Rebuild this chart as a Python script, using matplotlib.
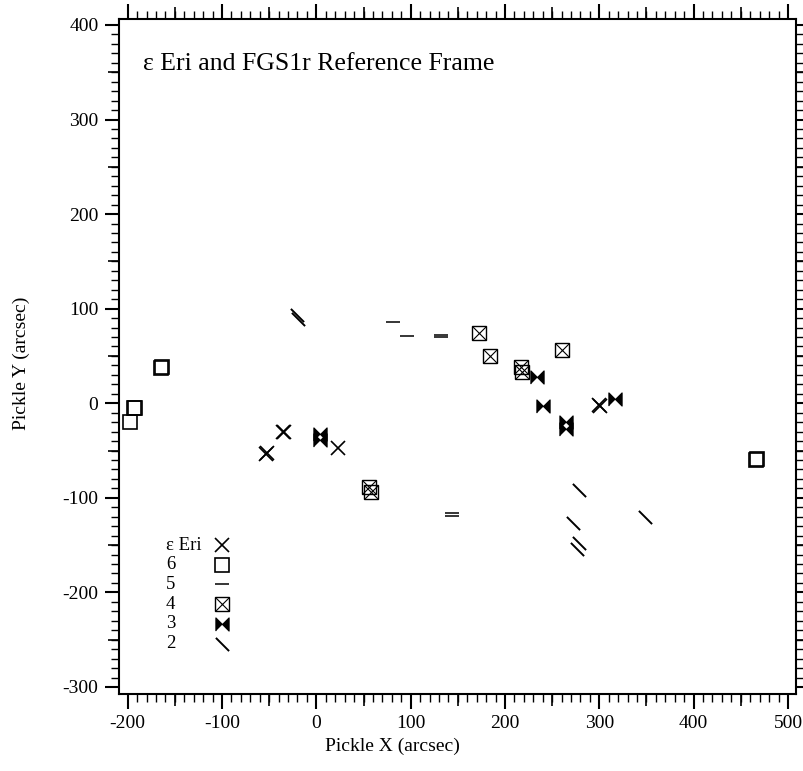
import numpy as np
import matplotlib.pyplot as plt
from matplotlib.path import Path
from matplotlib.ticker import MultipleLocator

plt.rcParams['font.family'] = ['Liberation Serif', 'DejaVu Serif']
plt.rcParams['axes.unicode_minus'] = False

eri_x = [-53.7, -52.6, -35.6, -34.5, 23.3, 300.8, 299.8]
eri_y = [-53.6, -53.0, -30.7, -30.1, -47.6, -2.9, -2.2]

f6_x = [-197.6, -193.3, -192.6, -164.7, -163.9, 466.0, 466.8]
f6_y = [-20.0, -5.3, -4.8, 37.0, 37.8, -60.0, -59.2]

f5_x = [81.7, 95.9, 131.9, 131.9, 143.9, 144.2]
f5_y = [85.6, 71.5, 72.5, 69.8, -116.3, -119.2]

f4_x = [172.8, 184.2, 217.1, 217.8, 260.6, 56.2, 57.7]
f4_y = [74.0, 50.0, 38.7, 33.4, 56.3, -88.2, -93.5]

f3_x = [3.9, 3.9, 233.7, 240.1, 264.5, 264.5, 316.8]
f3_y = [-32.5, -38.5, 27.5, -2.9, -20.3, -27.2, 4.5]

f2_x = [-21.0, -19.0, 278.3, 272.2, 278.9, 276.8, 348.6]
f2_y = [93.0, 89.0, -92.0, -127.0, -148.0, -154.4, -120.0]

labels = ['ε Eri', '6', '5', '4', '3', '2']

# custom marker shapes
bowtie = [(-1, -1), (-1, 1), (0, 0), (1, 1), (1, -1), (0, 0)]
slash = Path([(-1, 1), (1, -1)], [Path.MOVETO, Path.LINETO])

ms = 9.5
styles = [
    [dict(marker='x', ms=ms, mew=1.2, color='k')],
    [dict(marker='s', ms=ms, mew=1.2, mfc='none', mec='k')],
    [dict(marker='_', ms=ms, mew=1.1, color='k')],
    [dict(marker='s', ms=ms, mew=1.0, mfc='none', mec='k'),
     dict(marker='x', ms=ms, mew=0.8, color='k')],
    [dict(marker=bowtie, ms=ms, mew=0.8, color='k')],
    [dict(marker=slash, ms=ms, mew=1.4, color='k')],
]
series = [(eri_x, eri_y), (f6_x, f6_y), (f5_x, f5_y),
          (f4_x, f4_y), (f3_x, f3_y), (f2_x, f2_y)]

fig = plt.figure(figsize=(8.04, 7.71), dpi=100)
ax = fig.add_axes([0.1484, 0.0999, 0.8416, 0.8755])

for (xs, ys), st in zip(series, styles):
    for kw in st:
        ax.plot(xs, ys, ls='none', **kw)

ax.set_xlim(-208.9, 508.5)
ax.set_ylim(-307.4, 406.3)

ax.xaxis.set_major_locator(MultipleLocator(100))
ax.xaxis.set_minor_locator(MultipleLocator(10))
ax.yaxis.set_major_locator(MultipleLocator(100))
ax.yaxis.set_minor_locator(MultipleLocator(10))

for sp in ax.spines.values():
    sp.set_linewidth(1.5)

ax.tick_params(which='both', direction='out', top=True, right=True,
               labeltop=False, labelright=False, colors='k')
ax.tick_params(axis='x', which='major', length=11, width=1.5, pad=4, labelsize=14)
ax.tick_params(axis='y', which='major', length=10, width=1.5, pad=5, labelsize=14)
ax.tick_params(which='minor', length=5.5, width=1.0)

# medium ticks at the 50s
for loc in ['bottom', 'top']:
    sec = ax.secondary_xaxis(loc)
    sec.set_xticks(np.arange(-150, 501, 100))
    sec.tick_params(direction='out', length=8.5, width=1.2,
                    labelbottom=False, labeltop=False)
    for sp in sec.spines.values():
        sp.set_visible(False)
for loc in ['left', 'right']:
    sec = ax.secondary_yaxis(loc)
    sec.set_yticks(np.arange(-250, 401, 100))
    sec.tick_params(direction='out', length=8, width=1.2,
                    labelleft=False, labelright=False)
    for sp in sec.spines.values():
        sp.set_visible(False)

ax.set_xlabel('Pickle X (arcsec)', fontsize=14)
ax.set_ylabel('Pickle Y (arcsec)', fontsize=14)
ax.xaxis.set_label_coords(0.403, -0.065)
ax.yaxis.set_label_coords(-0.132, 0.49)

ax.text(0.035, 0.9244, 'ε Eri and FGS1r Reference Frame',
        transform=ax.transAxes, fontsize=18.5, va='baseline')

# legend: label column on the left, symbol column on the right
for i, (lab, st) in enumerate(zip(labels, styles)):
    yy = 0.2207 - i * 0.0292
    ax.text(0.069, yy, lab, transform=ax.transAxes, fontsize=13.5, va='center')
    for kw in st:
        ax.plot([0.152], [yy], ls='none', transform=ax.transAxes,
                clip_on=False, **kw)

fig.savefig('out.png', dpi=100)
